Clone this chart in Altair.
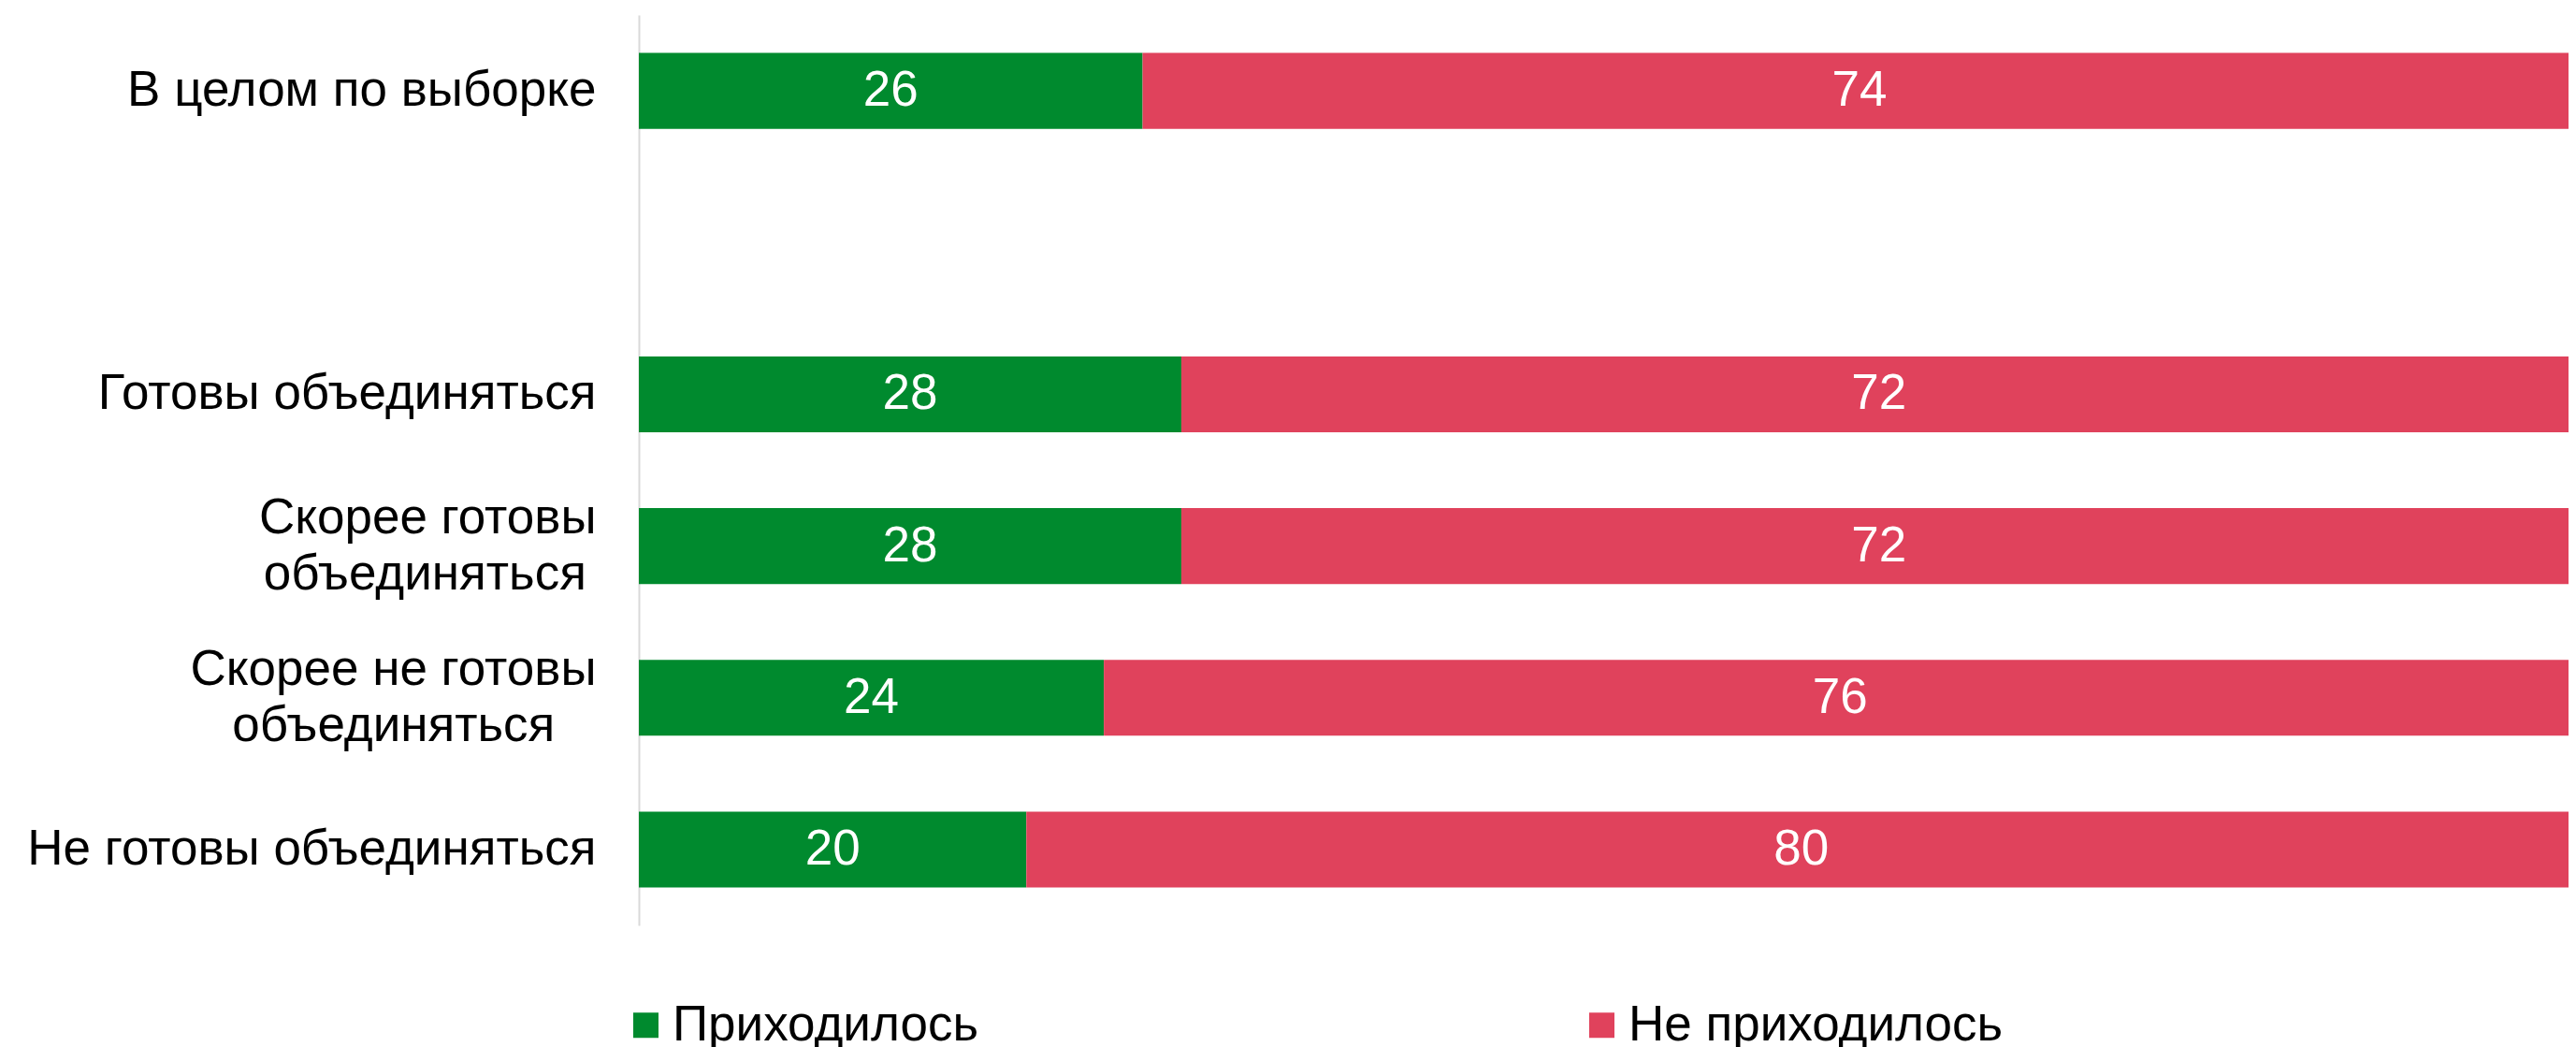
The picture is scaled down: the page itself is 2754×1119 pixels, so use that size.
import altair as alt
import pandas as pd

# Categories (the " " entry is the empty slot between the total and the groups)
categories = [
    "В целом по выборке",
    " ",
    "Готовы объединяться",
    "Скорее готовы\nобъединяться\u2009\u200b",
    "Скорее не готовы\nобъединяться\u00a0\u00a0\u00a0\u200b",
    "Не готовы объединяться",
]
groups = [c for c in categories if c.strip()]
had = [26, 28, 28, 24, 20]
had_not = [74, 72, 72, 76, 80]
series = ["Приходилось", "Не приходилось"]
colors = ["#008A2E", "#E0425C"]

rows = []
for g, a, b in zip(groups, had, had_not):
    rows.append({"cat": g, "series": series[0], "value": a, "order": 0})
    rows.append({"cat": g, "series": series[1], "value": b, "order": 1})
df = pd.DataFrame(rows)

FONT = "Liberation Sans"
FS = 53

base = alt.Chart(df).transform_stack(
    stack="value", groupby=["cat"], sort=[alt.SortField("order")], as_=["x0", "x1"]
).transform_calculate(mid="(datum.x0 + datum.x1) / 2")

y_scale = alt.Scale(domain=categories, paddingInner=0.5, paddingOuter=0.25)

y_enc = alt.Y(
    "cat:N",
    scale=y_scale,
    axis=alt.Axis(
        title=None,
        ticks=False,
        labelExpr="split(datum.label, '\\n')",
        labelFont=FONT,
        labelFontSize=FS,
        labelColor="#000000",
        labelPadding=46,
        labelLineHeight=60,
        labelLimit=0,
        labelOffset={"condition": {"test": "indexof(datum.label, '\\n') >= 0", "value": -30}, "value": 0},
        domainColor="#D9D9D9",
        domainWidth=2,
        grid=False,
    ),
)

x_scale = alt.Scale(domain=[0, 99.6], nice=False, zero=True)

bars = base.mark_bar().encode(
    x=alt.X("x0:Q", scale=x_scale, axis=None),
    x2="x1:Q",
    y=y_enc,
    color=alt.Color(
        "series:N",
        scale=alt.Scale(domain=series, range=colors),
        legend=alt.Legend(
            title=None,
            orient="none",
            legendX=-19,
            legendY=1053,
            direction="horizontal",
            symbolType="square",
            symbolSize=729,
            symbolStrokeWidth=0,
            labelFont=FONT,
            labelFontSize=FS,
            labelColor="#000000",
            labelOffset=2,
            columnPadding=639,
            padding=0,
            labelLimit=0,
        ),
    ),
)

labels = base.mark_text(color="white", font=FONT, fontSize=FS, align="center", baseline="middle").encode(
    x=alt.X("mid:Q", scale=x_scale, axis=None),
    y=alt.Y("cat:N", scale=y_scale),
    text="value:Q",
)

chart = alt.layer(bars, labels).properties(
    width=2063,
    height=973,
    autosize=alt.AutoSizeParams(type="none"),
    padding={"left": 675, "top": 8, "right": 0, "bottom": 130},
).configure_view(stroke=None)

chart.save("out.html", embed_options={"renderer": "svg", "actions": False})
